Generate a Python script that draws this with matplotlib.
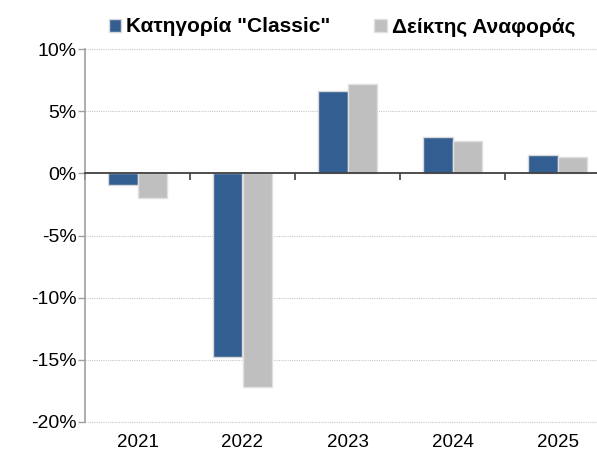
import matplotlib
matplotlib.use("Agg")
import matplotlib.pyplot as plt
import numpy as np
from matplotlib.patches import Patch
from matplotlib.transforms import blended_transform_factory

plt.rcParams['font.family'] = ['Liberation Sans', 'DejaVu Sans']

years = ["2021", "2022", "2023", "2024", "2025"]
classic = [-0.9, -14.8, 6.6, 2.9, 1.5]
benchmark = [-2.0, -17.2, 7.2, 2.6, 1.3]
series_names = ['Κατηγορία "Classic"', 'Δείκτης Αναφοράς']
yticks = [10, 5, 0, -5, -10, -15, -20]
ytick_labels = ["10%", "5%", "0%", "-5%", "-10%", "-15%", "-20%"]

blue = "#335E91"
grey = "#BFBFBF"

fig = plt.figure(figsize=(5.97, 4.53), dpi=100)
ax = fig.add_axes([85/597, 1 - 422/453, 525/597, (422-49)/453])

x = np.arange(len(years))
w = 0.285
ax.bar(x - w/2, classic, w, color=blue, edgecolor="#D9D9D9", linewidth=1.0, zorder=3)
ax.bar(x + w/2, benchmark, w, color=grey, edgecolor="#E0E0E0", linewidth=1.0, zorder=3)

ax.set_xlim(-0.5, len(years) - 0.5)
ax.set_ylim(-20, 10)
ax.set_yticks(yticks)
ax.set_yticklabels(ytick_labels, fontsize=14)
ax.tick_params(axis='y', length=5, color="#A0A0A0", width=1, pad=1)

for v in yticks:
    if v != 0:
        ax.axhline(v, color="#C8C8C8", linestyle=(0, (1, 1)), linewidth=0.8, zorder=1, clip_on=False)

ax.spines['top'].set_visible(False)
ax.spines['right'].set_visible(False)
ax.spines['left'].set_color("#A0A0A0")
ax.spines['left'].set_linewidth(1.2)
ax.spines['bottom'].set_position(('data', 0))
ax.spines['bottom'].set_color("#404040")
ax.spines['bottom'].set_linewidth(1.3)
ax.spines['bottom'].set_zorder(4)

ax.set_xticks(np.arange(len(years) + 1) - 0.5)
ax.set_xticklabels([])
ax.tick_params(axis='x', length=5, color="#404040", width=1.2, direction='out')

trans = blended_transform_factory(ax.transData, ax.transAxes)
for xi, lab in zip(x, years):
    ax.text(xi, -0.033, lab, transform=trans, ha='center', va='top', fontsize=13.5, clip_on=False)

handles = [Patch(facecolor=blue, edgecolor="#D9D9D9"), Patch(facecolor=grey, edgecolor="#E0E0E0")]
leg = fig.legend(handles, series_names, loc='center', bbox_to_anchor=(342/597, 1 - 27/453),
                 ncol=2, frameon=False, prop={'weight': 'bold', 'size': 15},
                 handlelength=0.6, handleheight=0.6, handletextpad=0.25, columnspacing=2.1)

fig.savefig("out.png", dpi=100)
